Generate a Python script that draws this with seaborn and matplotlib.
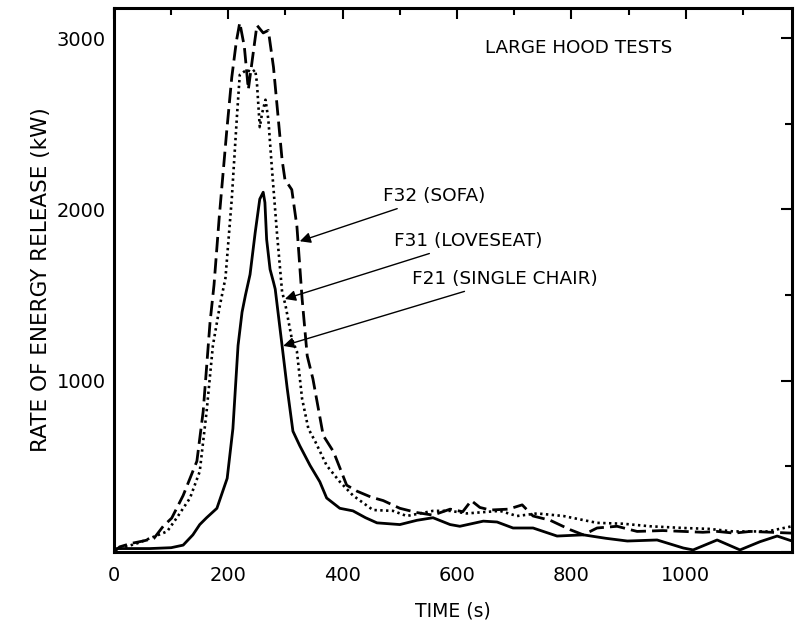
import matplotlib
matplotlib.use("Agg")
import matplotlib.pyplot as plt
import seaborn as sns
import pandas as pd
from matplotlib.ticker import MultipleLocator, FixedLocator

# ---- data ----
f32_t = [0, 10, 30, 51, 70, 86, 101, 121, 145, 156, 168, 175, 184, 197, 206, 214, 220, 228, 235, 243, 250, 261, 270, 279, 294, 299, 311, 320, 329, 338, 348, 366, 384, 407, 425, 450, 471, 500, 530, 558, 588, 610, 625, 640, 658, 690, 714, 733, 763, 798, 821, 845, 880, 915, 960, 996, 1030, 1055, 1085, 1113, 1150, 1186]
f32_v = [0, 30, 50, 64, 80, 150, 198, 330, 530, 820, 1340, 1560, 1950, 2450, 2770, 2980, 3090, 2950, 2700, 2900, 3075, 3030, 3045, 2830, 2290, 2175, 2115, 1900, 1480, 1145, 1010, 680, 585, 390, 355, 320, 300, 255, 230, 215, 250, 235, 300, 260, 245, 250, 275, 210, 185, 130, 100, 140, 150, 120, 125, 120, 115, 120, 110, 120, 115, 110]

f31_t = [0, 10, 40, 63, 93, 110, 133, 150, 162, 173, 185, 195, 206, 215, 220, 232, 241, 247, 250, 255, 259, 265, 270, 276, 285, 294, 300, 311, 320, 329, 340, 352, 372, 395, 418, 453, 488, 512, 558, 588, 617, 675, 705, 740, 786, 845, 890, 938, 996, 1040, 1083, 1143, 1186]
f31_v = [10, 20, 50, 80, 120, 200, 315, 470, 820, 1205, 1435, 1600, 2060, 2540, 2785, 2815, 2800, 2815, 2740, 2480, 2560, 2640, 2525, 2250, 1865, 1520, 1440, 1245, 1170, 895, 720, 645, 505, 410, 330, 245, 240, 210, 240, 240, 225, 240, 210, 225, 210, 170, 165, 150, 140, 135, 120, 120, 150]

f21_t = [0, 5, 63, 100, 121, 138, 150, 162, 180, 198, 208, 217, 224, 230, 238, 247, 255, 261, 264, 267, 273, 279, 282, 294, 303, 313, 325, 343, 360, 372, 395, 418, 440, 460, 500, 530, 558, 588, 605, 646, 670, 698, 733, 775, 821, 860, 898, 950, 996, 1013, 1055, 1095, 1130, 1160, 1186]
f21_v = [10, 20, 20, 25, 40, 100, 160, 200, 255, 430, 720, 1205, 1400, 1500, 1620, 1865, 2060, 2100, 2040, 1825, 1650, 1575, 1535, 1205, 955, 705, 620, 505, 410, 315, 255, 240, 200, 170, 160, 185, 200, 160, 150, 180, 175, 140, 140, 93, 100, 80, 64, 70, 23, 12, 70, 12, 60, 93, 64]

x_ticks = [0, 200, 400, 600, 800, 1000]
y_ticks = [1000, 2000, 3000]
labels = ["F32 (SOFA)", "F31 (LOVESEAT)", "F21 (SINGLE CHAIR)"]

sns.set_theme(style="white")
plt.rcParams["font.family"] = ["DejaVu Sans"]
plt.rcParams["text.color"] = "black"

fig = plt.figure(figsize=(7.96, 6.23), dpi=100)
ax = fig.add_axes([0.1432, 0.114, 0.995 - 0.1432, 0.987 - 0.114])

df32 = pd.DataFrame({"t": f32_t, "v": f32_v})
df31 = pd.DataFrame({"t": f31_t, "v": f31_v})
df21 = pd.DataFrame({"t": f21_t, "v": f21_v})

sns.lineplot(data=df32, x="t", y="v", ax=ax, color="black", linewidth=2.0,
             linestyle=(0, (5.5, 2.2)))
sns.lineplot(data=df31, x="t", y="v", ax=ax, color="black", linewidth=1.9,
             linestyle=(0, (0.9, 1.3)))
sns.lineplot(data=df21, x="t", y="v", ax=ax, color="black", linewidth=2.0,
             linestyle="-")

ax.set_xlim(0, 1186)
ax.set_ylim(0, 3175)
ax.xaxis.set_major_locator(FixedLocator(x_ticks + [1200]))
ax.xaxis.set_minor_locator(MultipleLocator(100))
ax.yaxis.set_major_locator(FixedLocator([0] + y_ticks))
ax.yaxis.set_minor_locator(MultipleLocator(500))
ax.set_xticklabels([str(v) for v in x_ticks] + [""])
ax.set_yticklabels([""] + [str(v) for v in y_ticks])

ax.tick_params(which="both", direction="in", top=True, right=True,
               color="black", labelsize=14, labelcolor="black")
ax.tick_params(which="major", length=8, width=1.5)
ax.tick_params(which="minor", length=5, width=1.5)
ax.tick_params(axis="x", which="major", pad=10)
ax.tick_params(axis="y", which="major", pad=6)
for s in ax.spines.values():
    s.set_visible(True)
    s.set_linewidth(2.2)
    s.set_color("black")

ax.set_xlabel("TIME (s)", fontsize=13.5, labelpad=12, color="black")
ax.set_ylabel("RATE OF ENERGY RELEASE (kW)", fontsize=15.5, labelpad=4, color="black")

ax.text(649, 2942, "LARGE HOOD TESTS", fontsize=13.2, va="center", ha="left", color="black")

arrow = dict(arrowstyle="-|>", color="black", lw=1.0, mutation_scale=16, shrinkA=0, shrinkB=0)
ax.annotate(labels[0], xy=(325, 1814), xytext=(470, 2076), fontsize=13.3, color="black",
            va="center", ha="left", arrowprops=arrow)
ax.annotate(labels[1], xy=(299, 1477), xytext=(490, 1814), fontsize=13.3, color="black",
            va="center", ha="left", arrowprops=arrow)
ax.annotate(labels[2], xy=(296, 1203), xytext=(522, 1593), fontsize=13.3, color="black",
            va="center", ha="left", arrowprops=arrow)

fig.savefig("out.png", dpi=100)
